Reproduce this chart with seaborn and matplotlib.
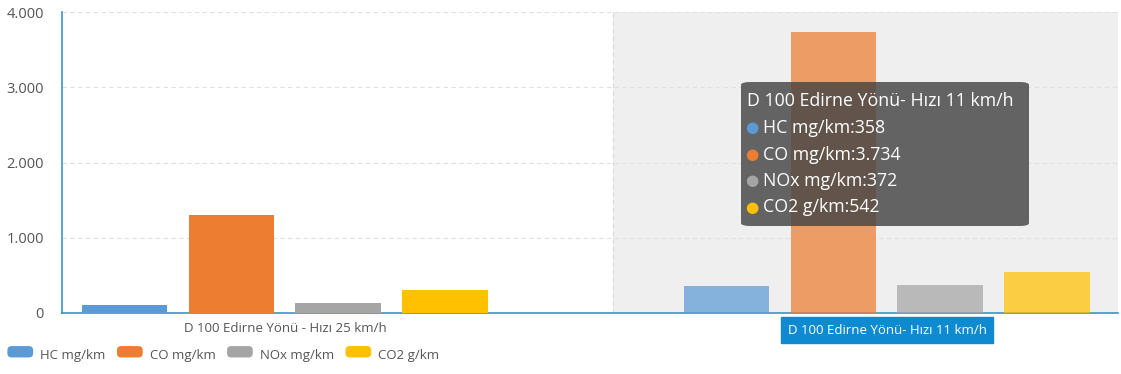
import matplotlib
matplotlib.use("Agg")
import matplotlib.pyplot as plt
import seaborn as sns
import pandas as pd
from matplotlib.patches import FancyBboxPatch
from matplotlib.legend_handler import HandlerBase
from matplotlib.ticker import FuncFormatter

categories = ["D 100 Edirne Yönü - Hızı 25 km/h", "D 100 Edirne Yönü- Hızı 11 km/h"]
series = ["HC mg/km", "CO mg/km", "NOx mg/km", "CO2 g/km"]
hc = [105, 358]
co = [1300, 3734]
nox = [135, 372]
co2 = [305, 542]
colors = ["#5b9bd5", "#ed7d31", "#a5a5a5", "#ffc000"]
yticks = [0, 1000, 2000, 3000, 4000]

rows = []
for name, vals in zip(series, [hc, co, nox, co2]):
    for cat, v in zip(categories, vals):
        rows.append({"cat": cat, "series": name, "value": v})
df = pd.DataFrame(rows)

sns.set_theme(style="white")
plt.rcParams["font.family"] = ["Open Sans", "DejaVu Sans"]

fig = plt.figure(figsize=(11.21, 3.74), dpi=100)
ax = fig.add_axes([62 / 1121, 61 / 374, (1118 - 62) / 1121, 301 / 374])

sns.barplot(data=df, x="cat", y="value", hue="series", order=categories,
            hue_order=series, palette=colors, width=0.71, gap=0.2,
            saturation=1, ax=ax, legend=False, zorder=3, linewidth=0,
            edgecolor="none")

# hovered category drawn lighter
for cont in ax.containers:
    cont[1].set_alpha(0.72)

ax.set_xlim(-0.370, 1.384)
ax.set_ylim(0, 4000)
ax.axvspan(0.545, 1.384, color="#efefef", zorder=0, lw=0)
ax.axvline(0.545, color="#d8d8d8", ls=(0, (4, 3)), lw=0.8, zorder=1)
ax.set_yticks(yticks)
ax.yaxis.set_major_formatter(FuncFormatter(lambda v, p: f"{int(v):,}".replace(",", ".")))
for y in yticks[1:]:
    ax.axhline(y, color="#e0e0e0", ls=(0, (4, 3)), lw=0.8, zorder=1)
ax.tick_params(axis="y", length=0, labelsize=10.5, labelcolor="#555555", pad=13)
ax.tick_params(axis="x", length=0)
ax.set_xticks([0, 1])
ax.set_xticklabels(["", ""])
ax.set_xlabel("")
ax.set_ylabel("")
for s in ["top", "right"]:
    ax.spines[s].set_visible(False)
for s in ["left", "bottom"]:
    ax.spines[s].set_color("#3a96bf")
    ax.spines[s].set_linewidth(1.2)

# category labels
fig.text(285 / 1121, 1 - 328 / 374, categories[0], ha="center", va="center",
         fontsize=9.5, color="#555555")
fig.text(887 / 1121, 1 - 330 / 374, categories[1], ha="center", va="center",
         fontsize=9.5, color="white",
         bbox=dict(boxstyle="square,pad=0.5", fc="#0d8ad0", ec="#0d8ad0"))

# tooltip
x0, x1, yt, yb = 741, 1029, 82, 226
tip = FancyBboxPatch((x0 / 1121, 1 - yb / 374), (x1 - x0) / 1121, (yb - yt) / 374,
                     boxstyle="round,pad=0,rounding_size=0.008",
                     transform=fig.transFigure, fc="#444444", ec="none",
                     alpha=0.82, zorder=10)
fig.patches.append(tip)
fig.text(747 / 1121, 1 - 101 / 374, categories[1], ha="left", va="center",
         fontsize=12.8, color="white", zorder=11)
for i, (name, vals, c) in enumerate(zip(series, [hc, co, nox, co2], colors)):
    yy = 1 - (128 + i * 26.5) / 374
    fig.text(752 / 1121, yy, "●", ha="center", va="center", fontsize=11,
             color=c, zorder=11, family="DejaVu Sans")
    val = f"{vals[1]:,}".replace(",", ".")
    fig.text(763 / 1121, yy, f"{name}:{val}", ha="left", va="center",
             fontsize=12.8, color="white", zorder=11)


class RoundHandler(HandlerBase):
    def create_artists(self, legend, orig, xd, yd, w, h, fs, trans):
        p = FancyBboxPatch((xd, yd), w, h, boxstyle="round,pad=0,rounding_size=3",
                           fc=orig.get_facecolor(), ec="none", transform=trans)
        return [p]


handles = [plt.Rectangle((0, 0), 1, 1, fc=c) for c in colors]
leg = fig.legend(handles, series, loc="center left",
                 bbox_to_anchor=(-0.004, 1 - 355 / 374), ncol=4, frameon=False,
                 fontsize=9.5, handlelength=1.95, handleheight=0.95,
                 handletextpad=0.55, columnspacing=0.85,
                 handler_map={plt.Rectangle: RoundHandler()})
for t in leg.get_texts():
    t.set_color("#555555")

fig.savefig("out.png", dpi=100)
